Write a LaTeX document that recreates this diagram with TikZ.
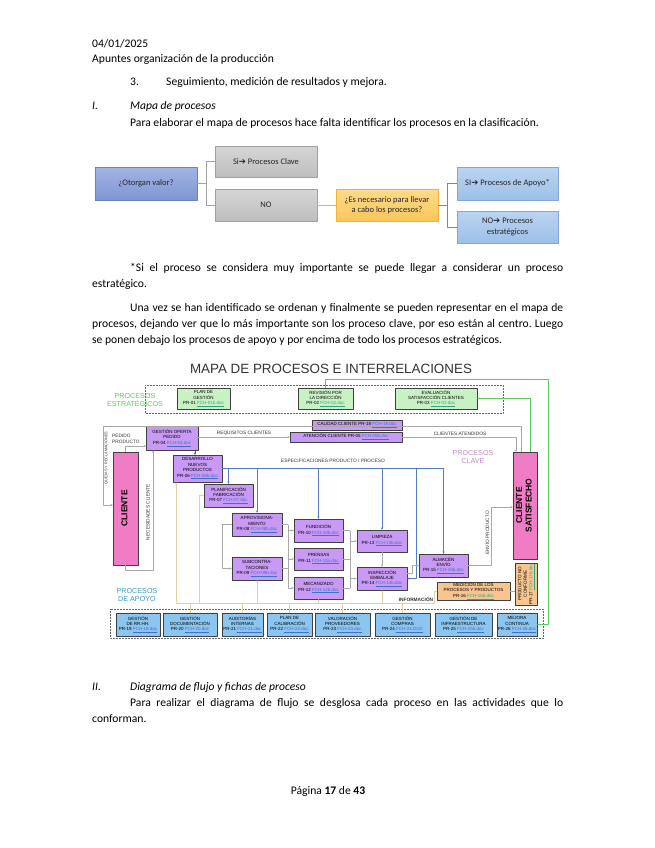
\documentclass[tikz,border=0pt]{standalone}
\usepackage{fontspec}
\setmainfont{Carlito}
\newfontfamily\mapfont{Liberation Sans}
\newfontfamily\symfont{DejaVu Sans}
\usetikzlibrary{arrows.meta,positioning}
\definecolor{otA}{HTML}{A3B5E4}
\definecolor{otB}{HTML}{7D95D2}
\definecolor{otbord}{HTML}{6A82C3}
\definecolor{grA}{HTML}{D6D6D6}
\definecolor{grB}{HTML}{BEBEBE}
\definecolor{grbord}{HTML}{A0A0A0}
\definecolor{amA}{HTML}{FFDB8C}
\definecolor{amB}{HTML}{FBC65A}
\definecolor{ambord}{HTML}{EDB33A}
\definecolor{ltA}{HTML}{BBD4F0}
\definecolor{ltB}{HTML}{9DC0E8}
\definecolor{ltbord}{HTML}{7FA8D8}
\definecolor{linkblue}{HTML}{3F6FD0}
\definecolor{linkgreen}{HTML}{2FA58C}
\definecolor{keyfill}{HTML}{C99AF5}
\definecolor{stratfill}{HTML}{C9F2C4}
\definecolor{supfill}{HTML}{8CC6F0}
\definecolor{clifill}{HTML}{F07CC6}
\definecolor{medfill}{HTML}{F8C48F}
\definecolor{cgray}{HTML}{A8A8A8}
\definecolor{cblue}{HTML}{4F7FBF}
\definecolor{ctan}{HTML}{E6CDA6}
\definecolor{cgreen}{HTML}{62C962}
\newcommand{\lnk}[1]{\textcolor{linkblue}{\underline{#1}}}
\newcommand{\glnk}[1]{\textcolor{linkgreen}{\underline{#1}}}
\newcommand{\arr}{{\symfont\char"2794}}
\newcommand{\vtxt}[1]{\rotatebox{90}{\begin{tabular}{@{}c@{}}#1\end{tabular}}}
\frenchspacing
\begin{document}
\begin{tikzpicture}[x=1pt, y=-1pt, >={Stealth[length=2.4pt,width=2.2pt]}, line join=round,
    txt/.style={anchor=base west, inner sep=0pt, font=\fontsize{11.6}{13}\selectfont},
    itxt/.style={txt, font=\fontsize{11.6}{13}\selectfont\itshape},
    treebox/.style={line width=0.6pt, align=center, inner sep=1pt, text=black!85, font=\fontsize{8.5}{10.5}\selectfont},
    bluebox/.style={treebox, draw=otbord, top color=otA, bottom color=otB},
    graybox/.style={treebox, draw=grbord, top color=grA, bottom color=grB},
    ambox/.style={treebox, draw=ambord, top color=amA, bottom color=amB},
    ltbox/.style={treebox, draw=ltbord, top color=ltA, bottom color=ltB},
    mbox/.style={draw=black!75, line width=0.4pt, align=center, inner sep=0pt, font=\mapfont\fontsize{4.5}{5.4}\selectfont},
    keyb/.style={mbox, fill=keyfill},
    stratb/.style={mbox, fill=stratfill},
    supb/.style={mbox, fill=supfill},
    medb/.style={mbox, fill=medfill},
    clib/.style={mbox, fill=clifill, font=\mapfont\bfseries\fontsize{8.5}{9.5}\selectfont},
    maptxt/.style={inner sep=0pt, align=center, text=black!80, font=\mapfont\fontsize{4.8}{5.8}\selectfont},
    grp/.style={inner sep=0pt, align=center, font=\mapfont\fontsize{7.2}{8}\selectfont},
    flow/.style={draw=cgray, line width=0.4pt}]
\useasboundingbox (0,0) rectangle (655,848);
\fill[white] (0,0) rectangle (655,848);

% cabecera y texto
\node[txt] (fecha) at (92,48) {04/01/2025};
\node[txt] (titulo) at (92,63) {Apuntes organización de la producción};
\node[txt] (n3) at (130,86) {3.};
\node[txt] (seg) at (166,86) {Seguimiento, medición de resultados y mejora.};
\node[itxt] (secI) at (92,110) {I.};
\node[itxt] (mapa) at (130,110) {Mapa de procesos};
\node[txt] (intro) at (130,126) {Para elaborar el mapa de procesos hace falta identificar los procesos en la clasificación.};

% arbol de clasificacion
\node[bluebox, minimum width=102, minimum height=33] (otorgan) at (146,183.5) {¿Otorgan valor?};
\node[graybox, minimum width=102, minimum height=31] (si) at (266,161.5) {Si\arr{} Procesos Clave};
\node[graybox, minimum width=102, minimum height=32] (no) at (266,205) {NO};
\node[ambox, minimum width=102, minimum height=32] (nec) at (387,205) {¿Es necesario para llevar\\a cabo los procesos?};
\node[ltbox, minimum width=101, minimum height=33] (apoyo) at (507.5,183.5) {SI\arr{} Procesos de Apoyo*};
\node[ltbox, minimum width=101, minimum height=32] (estrat) at (507.5,227) {NO\arr{} Procesos\\estratégicos};
\draw[grbord, line width=1pt] (otorgan.east) -- ++(9,0) coordinate (t1) |- (si.west);
\draw[grbord, line width=1pt] (t1) |- (no.west);
\draw[ambord, line width=1pt] (no.east) -- (nec.west);
\draw[ltbord!80!blue, line width=1pt] (nec.east) -- ++(9,0) coordinate (t2) |- (apoyo.west);
\draw[ltbord!80!blue, line width=1pt] (t2) |- (estrat.west);

\node[txt] (nota1) at (130,271) {\makebox[433pt][s]{*Si el proceso se considera muy importante se puede llegar a considerar un proceso}};
\node[txt] (nota2) at (92,287) {estratégico.};
\node[txt] (par1) at (130,311) {\makebox[433pt][s]{Una vez se han identificado se ordenan y finalmente se pueden representar en el mapa de}};
\node[txt] (par2) at (92,327) {\makebox[471pt][s]{procesos, dejando ver que lo más importante son los proceso clave, por eso están al centro. Luego}};
\node[txt] (par3) at (92,343) {se ponen debajo los procesos de apoyo y por encima de todo los procesos estratégicos.};

% mapa de procesos
\node[inner sep=0pt, text=black!80, font=\mapfont\fontsize{13.4}{15}\selectfont] (mtit) at (331,369) {MAPA DE PROCESOS E INTERRELACIONES};
\draw[black!60, densely dotted, line width=0.5pt] (145,385) rectangle (503,413);
\node[grp, text=cgreen] (gest) at (135,400.5) {PROCESOS\\ESTRATÉGICOS};
\foreach \id/\cx/\w/\txt in {
    plan/203.5/53/{PLAN DE\\GESTIÓN\\PR-01 \glnk{FCH-01b.doc}},
    rev/325.5/55/{REVISIÓN POR\\LA DIRECCIÓN\\PR-02 \glnk{FCH-02.doc}},
    eval/436/82/{EVALUACIÓN\\SATISFACCIÓN CLIENTES\\PR-03 \glnk{FCH-03.doc}}%
} {
    \node[stratb, minimum width=\w, minimum height=21] (\id) at (\cx,398.5) {\txt};
}
\foreach \id/\cx/\cy/\w/\h/\txt in {
    calidad/357/425/90/10/{CALIDAD CLIENTE PR-18 \lnk{FCH-18.doc}},
    atencion/346/437/112/10/{ATENCIÓN CLIENTE PR-05 \lnk{FCH-05b.doc}},
    oferta/172/438/52/24/{GESTIÓN OFERTA\\PEDIDO\\PR-04 \lnk{FCH-04.doc}},
    desarrollo/197.5/468.5/49/27/{DESARROLLO\\NUEVOS\\PRODUCTOS\\PR-06 \lnk{FCH-06b.doc}},
    planif/228.5/495.5/49/23/{PLANIFICACIÓN\\FABRICACIÓN\\PR-07 \lnk{FCH-07.doc}},
    aprov/257/524.5/50/23/{APROVISIONA-\\MIENTO\\PR-08 \lnk{FCH-08b.doc}},
    subcon/257/568.5/50/23/{SUBCONTRA-\\TACIONES\\PR-09 \lnk{FCH-09b.doc}},
    fund/318.5/530.5/49/23/{FUNDICIÓN\\PR-10 \lnk{FCH-10b.doc}},
    prensas/318.5/559/49/22/{PRENSAS\\PR-11 \lnk{FCH-11b.doc}},
    mecan/318.5/588/49/22/{MECANIZADO\\PR-12 \lnk{FCH-12b.doc}},
    limpieza/382/541/50/22/{LIMPIEZA\\PR-13 \lnk{FCH-13b.doc}},
    inspec/382/578.5/50/23/{INSPECCIÓN\\EMBALAJE\\PR-14 \lnk{FCH-14b.doc}},
    almacen/443.5/565.5/49/23/{ALMACÉN\\ENVÍO\\PR-15 \lnk{FCH-15b.doc}}%
} {
    \node[keyb, minimum width=\w, minimum height=\h] (\id) at (\cx,\cy) {\txt};
}
\node[medb, minimum width=73, minimum height=18] (medicion) at (473.5,591) {MEDICIÓN DE LOS\\PROCESOS Y PRODUCTOS\\PR-16 \glnk{FCH-16b.doc}};
\node[medb, minimum width=22, minimum height=42] (noconf) at (526,584) {\vtxt{PRODUCTO NO\\CONFORME\\PR-17 \glnk{FCH-17b.doc}}};
\node[clib, minimum width=25, minimum height=113] (cliente) at (125.5,508.5) {\vtxt{CLIENTE}};
\node[clib, minimum width=24, minimum height=107] (clisat) at (525,505.5) {\vtxt{CLIENTE\\SATISFECHO}};
\node[grp, text=violet!45] (gclave) at (473,457) {PROCESOS\\CLAVE};

% procesos de apoyo
\draw[black!60, densely dotted, line width=0.5pt] (110,609) rectangle (543,638);
\node[grp, text=cyan!70!blue!80] (gapoyo) at (137,595) {PROCESOS\\DE APOYO};
\foreach \id/\cx/\w/\txt in {
    rrhh/138/44/{GESTIÓN\\DE RR.HH.\\PR-19 \lnk{FCH-19.doc}},
    docu/190/54/{GESTIÓN\\DOCUMENTACIÓN\\PR-20 \lnk{FCH-20.doc}},
    audit/242.5/41/{AUDITORÍAS\\INTERNAS\\PR-21 \lnk{FCH-21.doc}},
    calib/289.5/45/{PLAN DE\\CALIBRACIÓN\\PR-22 \lnk{FCH-22.doc}},
    valor/342.5/55/{VALORACIÓN\\PROVEEDORES\\PR-23 \lnk{FCH-23.doc}},
    compras/402.5/55/{GESTIÓN\\COMPRAS\\PR-24 \lnk{FCH-24.DOC}},
    infra/463.5/57/{GESTIÓN DE\\INFRAESTRUCTURA\\PR-25 \lnk{FCH-25b.doc}},
    mejora/517/40/{MEJORA\\CONTINUA\\PR-26 \lnk{FCH-26.doc}}%
} {
    \node[supb, minimum width=\w, minimum height=23] (\id) at (\cx,624.5) {\txt};
}

% conexiones
\coordinate (gtop) at (548,379);
\draw[cgreen, line width=0.7pt, ->] (rev.north) |- (gtop) |- (mejora.east);
\draw[cgreen, line width=0.7pt, ->] (clisat.north) ++(5,0) |- (eval.east);
\coordinate (qtr) at (521,426);
\coordinate (qbl) at (103,505);
\draw[flow, ->] (clisat.north -| qtr) -- (qtr) -| (qbl) -- (qbl -| cliente.west);
\coordinate (catd) at (516,452);
\draw[flow, ->] (atencion.east) -| (catd);
\draw[flow, ->] (oferta.east |- atencion.west) -- (atencion.west);
\coordinate (pedin) at (146,446);
\draw[flow, ->] (cliente.north) |- (pedin);
\coordinate (necc) at (153,570);
\draw[flow, ->] (cliente.south) |- (necc) -- (necc |- oferta.south);
\coordinate (odx) at (195,0);
\draw[black!70, line width=0.5pt, ->] (oferta.south -| odx) -- (desarrollo.north -| odx);
\coordinate (be) at (443.5,468.5);
\draw[cblue, line width=0.5pt, ->] (desarrollo.east) -- (be) -- (almacen.north);
\foreach \t in {planif, aprov, fund, limpieza} {
    \draw[cblue, line width=0.5pt, ->] (desarrollo.east -| \t.north) -- (\t.north);
}
\coordinate (bi) at (416,468.5);
\draw[cblue, line width=0.5pt, ->] (bi) |- (inspec.east);
\draw[flow, ->] (aprov.west) -- ++(-10,0) |- (subcon.west);
\draw[flow] (aprov.east) -- ++(6,0) coordinate (ax);
\draw[flow] (subcon.east) -- (subcon.east -| ax);
\foreach \t in {fund, prensas, mecan} {
    \draw[flow, ->] (ax) |- (\t.west);
}
\coordinate (fx) at (350,0);
\draw[flow] (fund.east -| fx) -- (mecan.east -| fx);
\foreach \t in {fund, prensas, mecan} {
    \draw[flow] (\t.east) -- (\t.east -| fx);
}
\draw[flow, ->] (fund.east -| fx) |- (limpieza.west);
\draw[flow, ->] (mecan.east -| fx) |- (inspec.west);
\draw[flow, ->] (limpieza.south) -- (inspec.north);
\draw[flow, ->] (inspec.east) ++(0,-5) -- ++(5,0) |- (almacen.west);
\coordinate (ep) at (491,507);
\draw[flow, ->] (almacen.east) -| (ep) -- (ep -| clisat.west);
\draw[flow] (medicion.east) -- (noconf.west |- medicion.east);
\coordinate (il) at (176,603);
\draw[ctan, line width=0.5pt, ->] (medicion.west) -- ++(-3,0) |- (il) -- (il |- desarrollo.south);
\foreach \t in {subcon, mecan, inspec} {
    \draw[ctan, line width=0.5pt, ->] (\t.south |- il) -- (\t.south);
}
\coordinate (pl) at (199,603);
\draw[ctan, line width=0.5pt, ->] (pl) |- (planif.west);
\foreach \t in {docu, audit, calib, valor, compras} {
    \draw[ctan, line width=0.5pt] (\t.north) -- (\t.north |- il);
}

% rotulos de flechas
\node[maptxt, anchor=west, align=left] (lped) at (112,438.5) {PEDIDO\\PRODUCTO};
\node[maptxt] (lreq) at (244,433.5) {REQUISITOS CLIENTES};
\node[maptxt] (latd) at (460,433.5) {CLIENTES ATENDIDOS};
\node[maptxt] (lesp) at (333,461) {ESPECIFICACIONES PRODUCTO / PROCESO};
\node[maptxt, rotate=90, font=\mapfont\fontsize{3.8}{4.5}\selectfont] (lque) at (106.5,458) {QUEJAS Y RECLAMACIONES};
\node[maptxt, rotate=90] (lnec) at (148,512) {NECESIDADES CLIENTE};
\node[maptxt, rotate=90] (lenv) at (487,533) {ENVÍO PRODUCTO};
\node[maptxt, font=\mapfont\bfseries\fontsize{4.8}{5.8}\selectfont] (linf) at (416,599) {INFORMACIÓN};

% seccion II y pie
\node[itxt] (secII) at (92,690) {II.};
\node[itxt] (diag) at (130,690) {Diagrama de flujo y fichas de proceso};
\node[txt] (flujo1) at (130,706) {\makebox[433pt][s]{Para realizar el diagrama de flujo se desglosa cada proceso en las actividades que lo}};
\node[txt] (flujo2) at (92,722) {conforman.};
\node[txt, anchor=base] (pie) at (328,794) {Página \textbf{17} de \textbf{43}};
\end{tikzpicture}
\end{document}
